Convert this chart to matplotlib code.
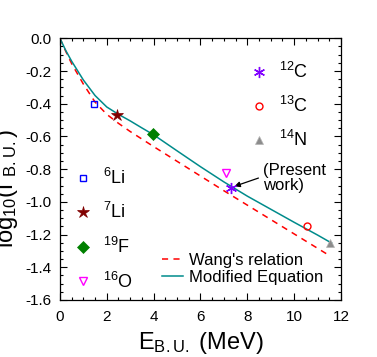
import numpy as np
import matplotlib
matplotlib.use('Agg')
import matplotlib.pyplot as plt
from matplotlib.ticker import MultipleLocator

plt.rcParams['font.family'] = ['Liberation Sans', 'DejaVu Sans']
plt.rcParams['mathtext.fontset'] = 'custom'
plt.rcParams['mathtext.rm'] = 'Liberation Sans'
plt.rcParams['mathtext.it'] = 'Liberation Sans:italic'
plt.rcParams['mathtext.bf'] = 'Liberation Sans:bold'

# curves
wang_x = [0, 0.25, 0.5, 1, 1.5, 2, 2.5, 3, 4, 5, 6, 7, 8, 9, 10, 11, 11.5]
wang_y = [0, -0.08, -0.155, -0.28, -0.39, -0.465, -0.52, -0.57, -0.662, -0.752,
          -0.842, -0.932, -1.02, -1.108, -1.196, -1.284, -1.328]
mod_x = [0, 0.25, 0.5, 1, 1.5, 2, 2.5, 3, 3.5, 4, 5, 6, 7, 8, 9, 10, 11, 11.6]
mod_y = [0, -0.075, -0.14, -0.255, -0.35, -0.42, -0.465, -0.505, -0.548, -0.59,
         -0.688, -0.785, -0.878, -0.965, -1.045, -1.125, -1.203, -1.252]

# nuclei points
nuclei = ['6Li', '7Li', '19F', '16O', '12C', '13C', '14N']
e_bu = [1.46, 2.42, 3.96, 7.1, 7.3, 10.53, 11.52]
log_gamma = [-0.40, -0.467, -0.587, -0.822, -0.916, -1.15, -1.25]
labels = [r'$^{6}$Li', r'$^{7}$Li', r'$^{19}$F', r'$^{16}$O',
          r'$^{12}$C', r'$^{13}$C', r'$^{14}$N']

styles = {
    '6Li': dict(marker='s', ms=5, mfc='none', mec='#0000ff', mew=1.0),
    '7Li': dict(marker='*', ms=9, mfc='#800000', mec='#800000', mew=0.5),
    '19F': dict(marker='D', ms=6, mfc='#008000', mec='#008000', mew=0.5),
    '16O': dict(marker='v', ms=6, mfc='none', mec='#ff00ff', mew=1.0),
    '12C': dict(marker=(6, 2, 0), ms=8, mfc='#8000ff', mec='#8000ff', mew=1.0),
    '13C': dict(marker='o', ms=5, mfc='none', mec='#ff0000', mew=1.0),
    '14N': dict(marker='^', ms=6, mfc='#8c8c8c', mec='#b4b4b4', mew=0.5),
}

fig = plt.figure(figsize=(3.77, 3.57), dpi=100)
ax = fig.add_axes([0.159, 0.1597, 0.7455, 0.733])

l1, = ax.plot(wang_x, wang_y, color='#ff0000', lw=1.1, dashes=(4, 3.5), label="Wang's relation")
l2, = ax.plot(mod_x, mod_y, color='#008b8b', lw=1.1, label='Modified Equation')

handles = {}
for n, x, y, lab in zip(nuclei, e_bu, log_gamma, labels):
    h, = ax.plot([x], [y], ls='none', label=lab, zorder=5, **styles[n])
    handles[n] = h

ax.annotate('(Present\nwork)', xy=(7.45, -0.905), xytext=(8.65, -0.855),
            fontsize=12, ha='left', va='center', linespacing=1.0,
            arrowprops=dict(arrowstyle='-|>', color='black', lw=0.9,
                            mutation_scale=8, shrinkA=1, shrinkB=0,
                            relpos=(0, 0.55)))

leg_left = ax.legend([handles[n] for n in nuclei[:4]], labels[:4],
                     loc='upper left', bbox_to_anchor=(0.051, 0.505),
                     frameon=False, fontsize=13, handlelength=1.0,
                     handletextpad=0.6, labelspacing=0.8, borderpad=0,
                     borderaxespad=0)
ax.add_artist(leg_left)
leg_right = ax.legend([handles[n] for n in nuclei[4:]], labels[4:],
                      loc='upper left', bbox_to_anchor=(0.677, 0.91),
                      frameon=False, fontsize=13, handlelength=1.0,
                      handletextpad=0.6, labelspacing=0.78, borderpad=0,
                      borderaxespad=0)
ax.add_artist(leg_right)
ax.legend([l1, l2], ["Wang's relation", 'Modified Equation'],
          loc='lower left', bbox_to_anchor=(0.362, 0.056), frameon=False,
          fontsize=12, handlelength=1.3, handletextpad=0.35,
          labelspacing=0.15, borderpad=0, borderaxespad=0)

ax.set_xlim(0, 12)
ax.set_ylim(-1.6, 0.0)
ax.xaxis.set_major_locator(MultipleLocator(2))
ax.xaxis.set_minor_locator(MultipleLocator(0.5))
ax.yaxis.set_minor_locator(MultipleLocator(0.05))
yt = np.arange(-1.6, 0.01, 0.2)
ax.set_yticks(yt)
ax.set_yticklabels(['%.1f' % v if abs(v) > 1e-9 else '0.0' for v in yt])
ax.tick_params(which='both', direction='in', top=True, right=True, labelsize=11)
ax.tick_params(which='major', length=5, width=0.8)
ax.tick_params(which='minor', length=2.5, width=0.8)
ax.tick_params(axis='y', pad=6)
ax.tick_params(axis='x', pad=7)
for s in ax.spines.values():
    s.set_linewidth(0.9)

ax.set_xlabel(r'E$_{\mathrm{B.U.}}$ (MeV)', fontsize=17)
ax.set_ylabel(r'log$_{10}$($\Gamma_{\mathrm{B.U.}}$)', fontsize=17)
ax.xaxis.set_label_coords(0.5, -0.115)
ax.yaxis.set_label_coords(-0.142, 0.424)

fig.savefig('out.png', dpi=100)
